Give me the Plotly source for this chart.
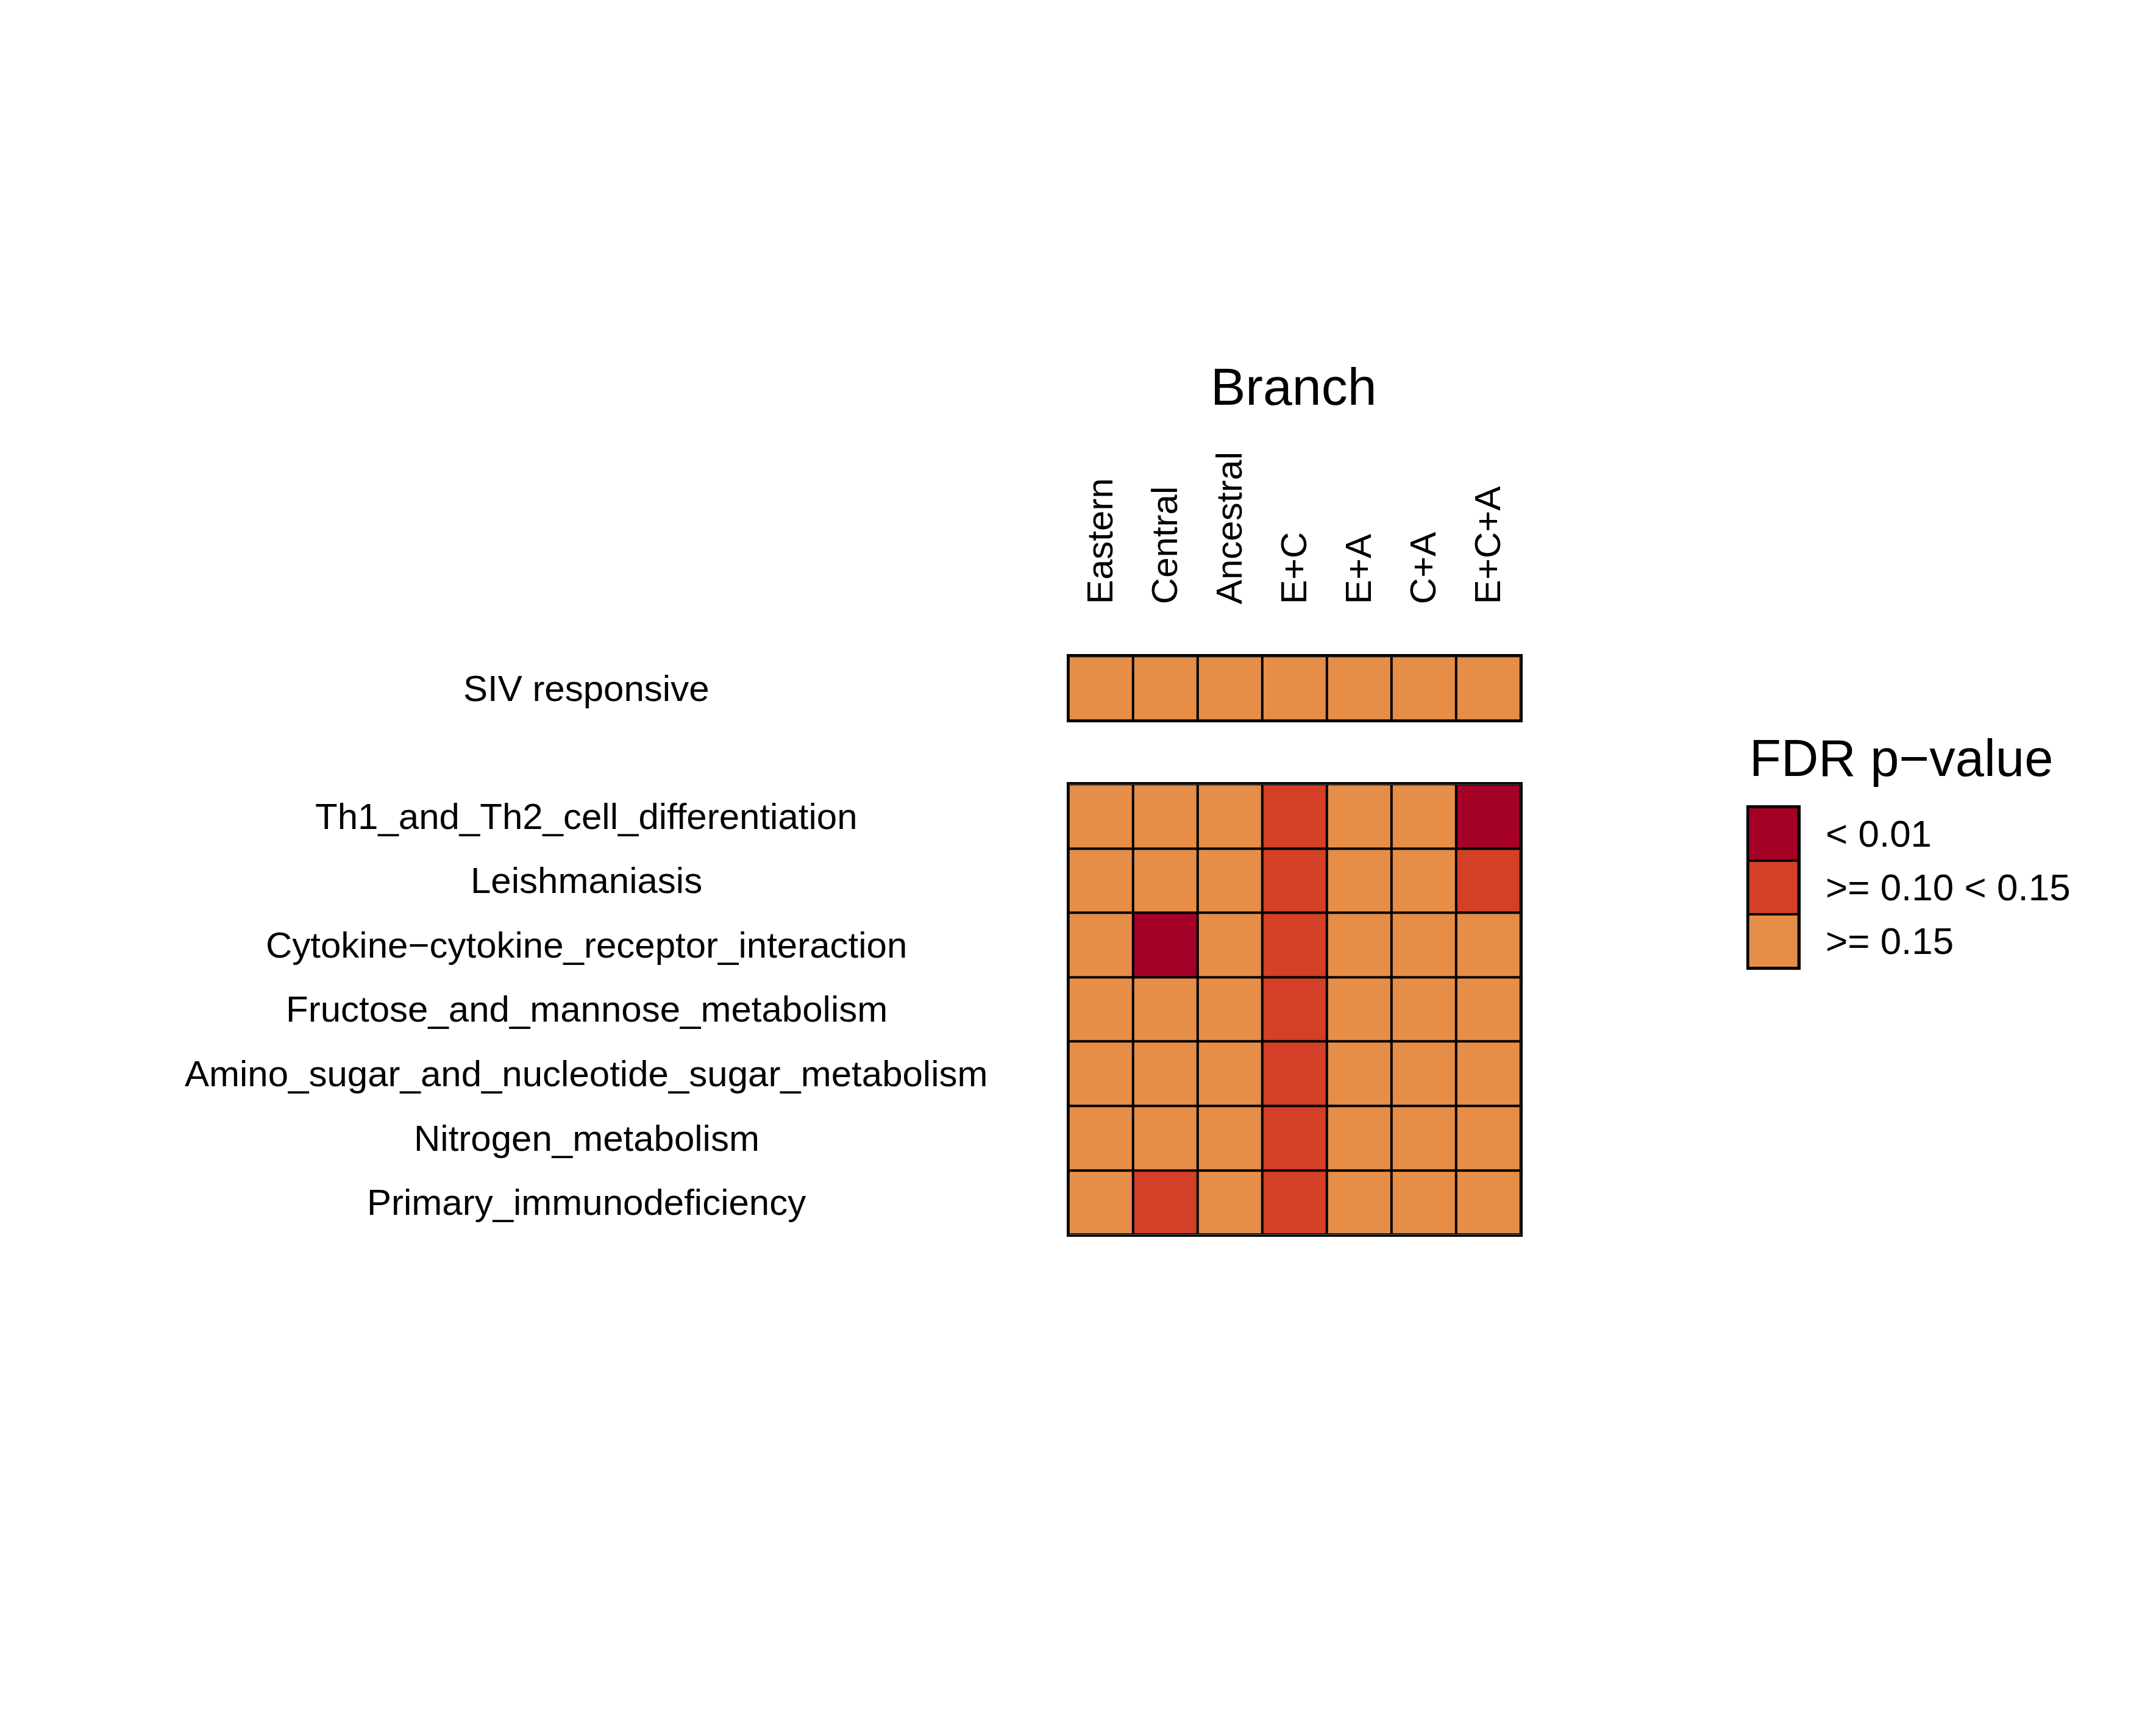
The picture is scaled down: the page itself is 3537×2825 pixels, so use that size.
import plotly.graph_objs as go

branches = ["Eastern", "Central", "Ancestral", "E+C", "E+A", "C+A", "E+C+A"]
top_rows = ["SIV responsive"]
pathways = ["Th1_and_Th2_cell_differentiation", "Leishmaniasis",
            "Cytokine\u2212cytokine_receptor_interaction", "Fructose_and_mannose_metabolism",
            "Amino_sugar_and_nucleotide_sugar_metabolism", "Nitrogen_metabolism",
            "Primary_immunodeficiency"]
# 0: < 0.01, 1: >= 0.10 < 0.15, 2: >= 0.15
top_codes = [[2, 2, 2, 2, 2, 2, 2]]
pathway_codes = [
    [2, 2, 2, 1, 2, 2, 0],
    [2, 2, 2, 1, 2, 2, 1],
    [2, 0, 2, 1, 2, 2, 2],
    [2, 2, 2, 1, 2, 2, 2],
    [2, 2, 2, 1, 2, 2, 2],
    [2, 2, 2, 1, 2, 2, 2],
    [2, 1, 2, 1, 2, 2, 2],
]
legend_labels = ["< 0.01", ">= 0.10 < 0.15", ">= 0.15"]
legend_codes = [[0], [1], [2]]
colors = ["#A50026", "#D33F27", "#E68E48"]

cscale = [[0, colors[0]], [0.333, colors[0]], [0.333, colors[1]], [0.667, colors[1]],
          [0.667, colors[2]], [1, colors[2]]]
font = "Liberation Sans"


def heat(z, x, y, xa, ya):
    return go.Heatmap(z=z, x=x, y=y, xaxis=xa, yaxis=ya, colorscale=cscale, zmin=0, zmax=2,
                      showscale=False, xgap=4, ygap=4, hoverinfo="skip")


fig = go.Figure()
fig.add_trace(heat(pathway_codes, branches, pathways, "x", "y"))
fig.add_trace(heat(top_codes, branches, top_rows, "x2", "y2"))
fig.add_trace(heat(legend_codes, ["k"], legend_labels, "x3", "y3"))

box = dict(showline=True, mirror=True, linecolor="black", linewidth=3, showgrid=False,
           zeroline=False, ticks="")
fig.update_layout(
    width=3537, height=2825, margin=dict(l=0, r=0, t=0, b=0),
    paper_bgcolor="white", plot_bgcolor="black",
    font=dict(family=font, size=60, color="black"),
    xaxis=dict(domain=[0.4933, 0.7031], showticklabels=False, **box),
    yaxis=dict(domain=[0.2858, 0.5475], autorange="reversed", showticklabels=False, **box),
    xaxis2=dict(domain=[0.4933, 0.7031], anchor="y2", side="top", tickangle=-90,
                ticklabelstandoff=70, tickfont=dict(size=60), **box),
    yaxis2=dict(domain=[0.5844, 0.6219], anchor="x2", showticklabels=False, **box),
    xaxis3=dict(domain=[0.8085, 0.8321], anchor="y3", showticklabels=False, **box),
    yaxis3=dict(domain=[0.4407, 0.5342], anchor="x3", autorange="reversed",
                showticklabels=False, **box),
)

ann = [dict(text="Branch", x=0.5977, y=0.7962, xref="paper", yref="paper", showarrow=False,
            xanchor="center", font=dict(size=86)),
       dict(text="FDR p\u2212value", x=0.8085, y=0.5628, xref="paper", yref="paper",
            xanchor="left", showarrow=False, font=dict(size=85))]
for r in top_rows:
    ann.append(dict(text=r, x=0.2698, y=r, xref="paper", yref="y2", xanchor="center",
                    showarrow=False))
for r in pathways:
    ann.append(dict(text=r, x=0.2698, y=r, xref="paper", yref="y", xanchor="center",
                    showarrow=False))
for r in legend_labels:
    ann.append(dict(text=r, x=0.8439, y=r, xref="paper", yref="y3", xanchor="left",
                    showarrow=False, font=dict(size=62)))
fig.update_layout(annotations=ann)

fig.write_html("out.html")
